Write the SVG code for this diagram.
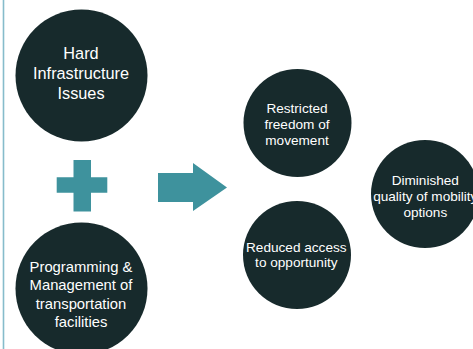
<svg xmlns="http://www.w3.org/2000/svg" width="473" height="349" viewBox="0 0 473 349">
  <style>
    .node { fill: #172a2c; }
    .mark { fill: #3e929d; }
    .label { fill: #ffffff; font-family: "Liberation Sans", Arial, sans-serif; text-anchor: middle; }
    .big { font-size: 16.3px; }
    .mid { font-size: 14.8px; }
    .small { font-size: 13.6px; }
  </style>
  <rect x="0" y="0" width="473" height="349" fill="#ffffff"/>
  <!-- left margin rule -->
  <line x1="3.5" y1="0" x2="3.5" y2="349" stroke="#86bccb" stroke-width="1.6"/>

  <!-- causes -->
  <g id="hard-infrastructure">
    <circle class="node" cx="81.5" cy="75.5" r="66"/>
    <text class="label big" x="81" y="59.3">Hard</text>
    <text class="label big" x="81" y="79">Infrastructure</text>
    <text class="label big" x="81" y="98.7">Issues</text>
  </g>
  <g id="programming-management">
    <circle class="node" cx="81.5" cy="288.5" r="66"/>
    <text class="label mid" x="81" y="271.5">Programming &amp;</text>
    <text class="label mid" x="81" y="290">Management of</text>
    <text class="label mid" x="81" y="308.5">transportation</text>
    <text class="label mid" x="81" y="327">facilities</text>
  </g>

  <!-- plus sign and arrow -->
  <g id="connectors">
    <path class="mark" d="M73.5 160 H91 V177.3 H107.3 V192.7 H91 V211.5 H73.5 V192.7 H56.7 V177.3 H73.5 Z"/>
    <path class="mark" d="M158 173 H193 V163 L227 187.5 L193 211 V202 H158 Z"/>
  </g>

  <!-- effects -->
  <g id="restricted-freedom">
    <circle class="node" cx="297.5" cy="123" r="54"/>
    <text class="label small" x="297" y="113.3">Restricted</text>
    <text class="label small" x="297" y="129.2">freedom of</text>
    <text class="label small" x="297" y="145">movement</text>
  </g>
  <g id="reduced-access">
    <circle class="node" cx="297" cy="255" r="54"/>
    <text class="label small" x="296.3" y="251.5">Reduced access</text>
    <text class="label small" x="296.3" y="266.5">to opportunity</text>
  </g>
  <g id="diminished-quality">
    <circle class="node" cx="425" cy="194" r="54"/>
    <text class="label small" x="425.3" y="185">Diminished</text>
    <text class="label small" x="425.3" y="200.8">quality of mobility</text>
    <text class="label small" x="425.3" y="216.6">options</text>
  </g>
</svg>
